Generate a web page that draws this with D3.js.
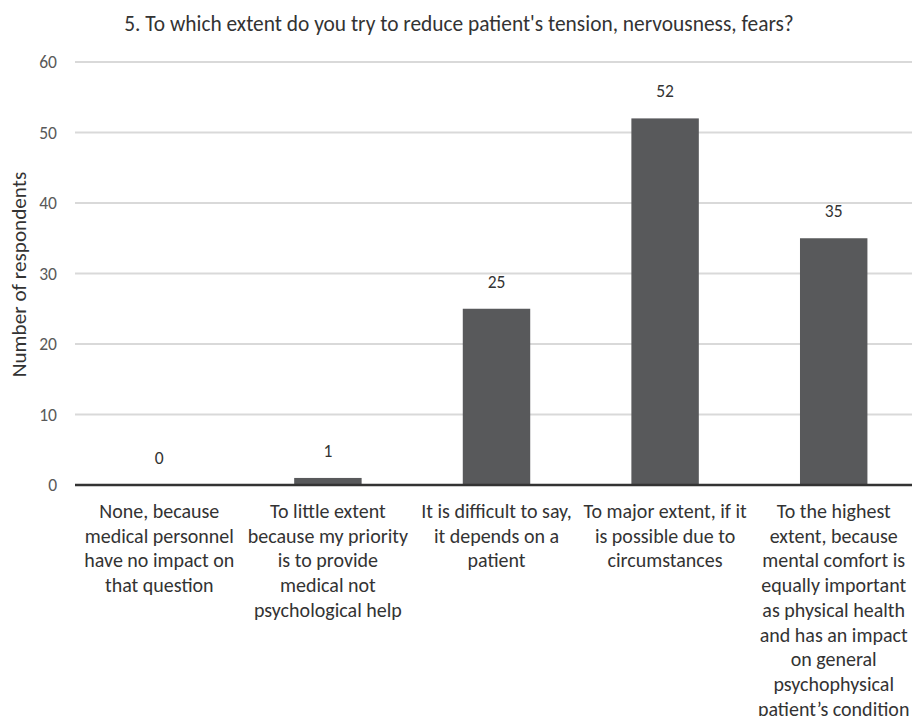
<!DOCTYPE html>
<html><head><meta charset="utf-8">
<script src="https://cdn.jsdelivr.net/npm/d3@7"></script>
<style>body{margin:0;background:#fff}svg{display:block}</style>
</head><body><svg id="c" width="912" height="716"></svg>
<script>
const title = "5. To which extent do you try to reduce patient's tension, nervousness, fears?";
const yTitle = "Number of respondents";
const categories = [
  ["None, because", "medical personnel", "have no impact on", "that question"],
  ["To little extent", "because my priority", "is to provide", "medical not", "psychological help"],
  ["It is difficult to say,", "it depends on a", "patient"],
  ["To major extent, if it", "is possible due to", "circumstances"],
  ["To the highest", "extent, because", "mental comfort is", "equally important", "as physical health", "and has an impact", "on general", "psychophysical", "patient\u2019s condition"]
];
const values = [0, 1, 25, 52, 35];
const yTicks = [0, 10, 20, 30, 40, 50, 60];

const font = "Calibri, Carlito, Lato, sans-serif";
const svg = d3.select("#c");
const x = d3.scaleBand().domain(d3.range(values.length)).range([75, 918]).paddingInner(0.6).paddingOuter(0.3);
const y = d3.scaleLinear().domain([0, 60]).range([485, 62]);

// gridlines
svg.append("g").selectAll("line").data(yTicks.filter(d => d > 0)).join("line")
  .attr("x1", 75).attr("x2", 912).attr("y1", d => y(d)).attr("y2", d => y(d))
  .attr("stroke", "#d9d9d9").attr("stroke-width", 2);

// y axis labels
const yAxis = svg.append("g").attr("transform", "translate(62,0)")
  .call(d3.axisLeft(y).tickValues(yTicks).tickSize(0).tickPadding(5));
yAxis.select(".domain").remove();
yAxis.selectAll("text").attr("font-family", font).attr("font-size", 17.5).attr("fill", "#595959");

// bars
svg.append("g").selectAll("rect").data(values).join("rect")
  .attr("x", (d, i) => x(i)).attr("width", x.bandwidth())
  .attr("y", d => y(d)).attr("height", d => y(0) - y(d))
  .attr("fill", "#58595b");

// baseline
svg.append("line").attr("x1", 75).attr("x2", 912).attr("y1", y(0)).attr("y2", y(0))
  .attr("stroke", "#333").attr("stroke-width", 2.5);

// data labels
svg.append("g").selectAll("text").data(values).join("text")
  .attr("x", (d, i) => x(i) + x.bandwidth() / 2).attr("y", d => y(d) - 27)
  .attr("text-anchor", "middle").attr("dominant-baseline", "central")
  .attr("font-family", font).attr("font-size", 17.5).attr("fill", "#333")
  .text(d => d);

// category labels
const cg = svg.append("g").selectAll("text").data(categories).join("text")
  .attr("text-anchor", "middle").attr("font-family", font).attr("font-size", 20).attr("fill", "#333");
cg.each(function(lines, i) {
  d3.select(this).selectAll("tspan").data(lines).join("tspan")
    .attr("x", x(i) + x.bandwidth() / 2).attr("y", (l, k) => 518 + k * 24.7).text(l => l);
});

// title
svg.append("text").attr("x", 459).attr("y", 31).attr("text-anchor", "middle")
  .attr("font-family", font).attr("font-size", 21.4).attr("fill", "#333").text(title);

// y title
svg.append("text").attr("transform", "translate(26,274.5) rotate(-90)").attr("text-anchor", "middle")
  .attr("font-family", font).attr("font-size", 21.2).attr("fill", "#333").text(yTitle);
</script></body></html>
